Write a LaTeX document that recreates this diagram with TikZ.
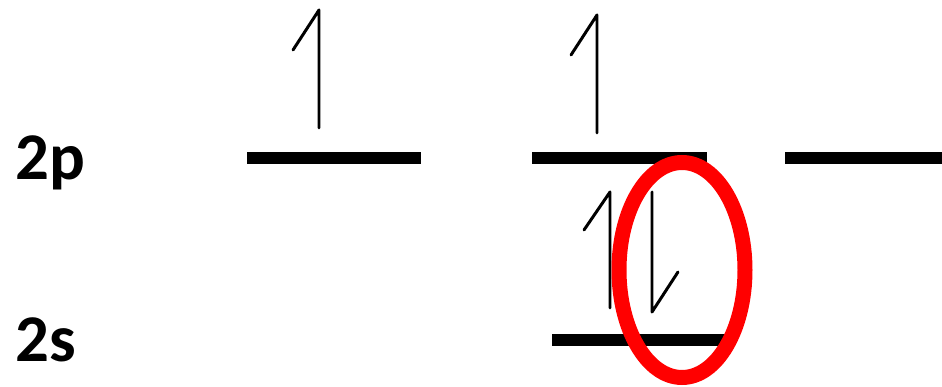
\documentclass[tikz,border=0pt]{standalone}
\usepackage{fontspec}
\setsansfont{Carlito}
\usepackage{tikz}
\usetikzlibrary{calc}

\tikzset{
  level/.style={line width=0.25cm, black},
  spin/.style={line width=1.7pt, black, line cap=round, line join=round},
  shell/.style={font=\sffamily\bfseries\fontsize{38}{40}\selectfont, anchor=base west, inner sep=0pt}
}

\begin{document}
\begin{tikzpicture}
  \useasboundingbox (0,0) rectangle (18.84,-7.74);

  % Shell labels
  \node[shell] (lbl2p) at (0.30,-3.60) {2p};
  \node[shell] (lbl2s) at (0.30,-7.24) {2s};

  % 2p orbitals
  \draw[level] (4.94,-3.16) -- (8.42,-3.16);
  \draw[level] (10.64,-3.16) -- (14.14,-3.16);
  \draw[level] (15.70,-3.16) -- (18.84,-3.16);

  % 2s orbital
  \draw[level] (11.04,-6.80) -- (14.50,-6.80);

  % Electrons in 2p
  \draw[spin] (5.86,-1.00) -- (6.38,-0.20) -- (6.38,-2.56);
  \draw[spin] (11.42,-1.10) -- (11.94,-0.30) -- (11.94,-2.66);

  % Electron pair in 2s
  \draw[spin] (11.68,-4.60) -- (12.20,-3.84) -- (12.20,-6.16);
  \draw[spin] (13.04,-3.84) -- (13.04,-6.24) -- (13.56,-5.44);

  % Highlight of the promoted electron
  \draw[red, line width=0.30cm] (13.64,-5.40) ellipse [x radius=1.26, y radius=2.15];
\end{tikzpicture}
\end{document}
